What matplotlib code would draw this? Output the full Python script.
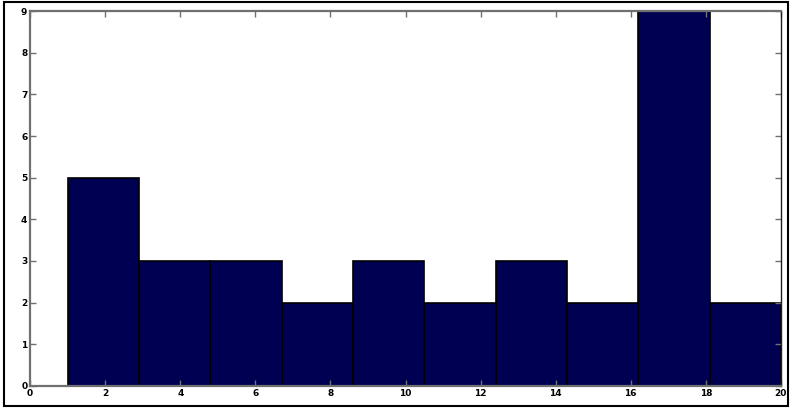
import matplotlib.pyplot as plt
import numpy as np
from matplotlib.patches import Rectangle

# Histograma de 10 clases entre 1 y 20
bin_edges = np.linspace(1, 20, 11)
counts = [5, 3, 3, 2, 3, 2, 3, 2, 9, 2]

bar_color = '#000052'
spine_color = '#707070'

fig = plt.figure(figsize=(7.92, 4.08), dpi=100)
ax = fig.add_axes([0.038, 0.054, 0.948, 0.919])

ax.bar(bin_edges[:-1], counts, width=np.diff(bin_edges), align='edge',
       color=bar_color, edgecolor='black', linewidth=1.2)

ax.set_xlim(0, 20)
ax.set_ylim(0, 9)
ax.set_xticks(np.arange(0, 21, 2))
ax.set_yticks(np.arange(0, 10, 1))

ax.tick_params(direction='in', length=4, width=1, colors=spine_color,
               labelcolor='black', labelsize=6.5, top=True, right=True, pad=2)
for lbl in ax.get_xticklabels() + ax.get_yticklabels():
    lbl.set_fontweight('bold')

for side in ['left', 'top', 'bottom']:
    ax.spines[side].set_color(spine_color)
    ax.spines[side].set_linewidth(1.6)
ax.spines['right'].set_color('#202020')
ax.spines['right'].set_linewidth(1.0)

# Marco exterior de la imagen
fig.patches.append(Rectangle((0.005, 0.005), 0.99, 0.99, transform=fig.transFigure,
                             fill=False, edgecolor='black', linewidth=1.5))

fig.savefig('out.png', dpi=100)
